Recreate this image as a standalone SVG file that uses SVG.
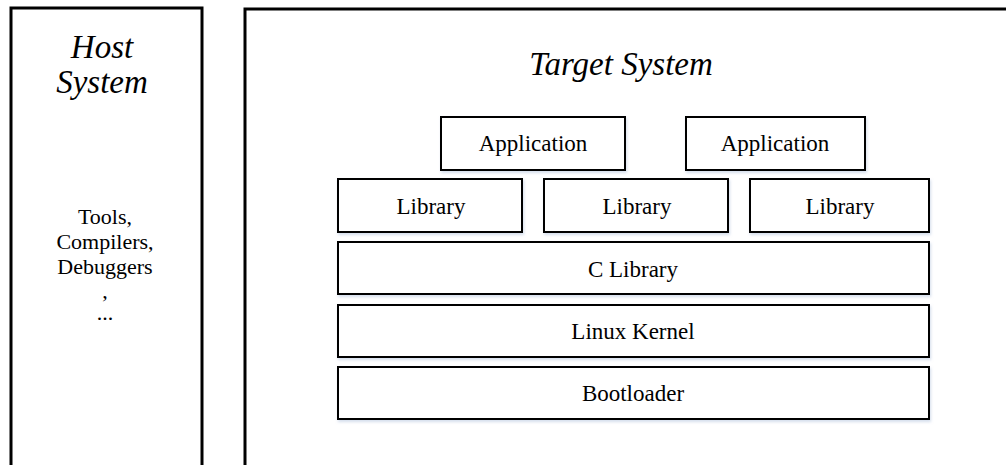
<svg xmlns="http://www.w3.org/2000/svg" width="1006" height="465" viewBox="0 0 1006 465">
<defs>
<filter id="sh" x="-5%" y="-10%" width="110%" height="130%">
<feDropShadow dx="1" dy="2" stdDeviation="1.5" flood-color="#b8c8e0" flood-opacity="0.6"/>
</filter>
</defs>
<style>
.outer{fill:#fff;stroke:#000;stroke-width:3}
.box{fill:#fff;stroke:#000;stroke-width:2;filter:url(#sh)}
</style>
<rect width="1006" height="465" fill="#fff"/>
<g id="host">
<rect class="outer" x="11" y="8" width="191" height="480"/>
<g font-family="Liberation Serif" font-style="italic" font-size="33" text-anchor="middle" fill="#000">
<text x="102" y="58">Host</text>
<text x="102" y="93">System</text>
</g>
<g font-family="Liberation Serif" font-size="22" text-anchor="middle" fill="#000">
<text x="105" y="224">Tools,</text>
<text x="105" y="249">Compilers,</text>
<text x="105" y="274">Debuggers</text>
<text x="105" y="298">,</text>
<text x="105" y="320">...</text>
</g>
</g>
<g id="target">
<rect class="outer" x="245" y="9" width="800" height="480"/>
<text font-family="Liberation Serif" font-style="italic" font-size="33" text-anchor="middle" x="621" y="75">Target System</text>
</g>
<g font-family="Liberation Serif" font-size="23" text-anchor="middle" fill="#000">
<g id="app1"><rect class="box" x="441" y="117" width="184" height="53"/><text x="533" y="151">Application</text></g>
<g id="app2"><rect class="box" x="686" y="117" width="179" height="53"/><text x="775" y="151">Application</text></g>
<g id="lib1"><rect class="box" x="338" y="179" width="184" height="53"/><text x="431" y="214">Library</text></g>
<g id="lib2"><rect class="box" x="544" y="179" width="184" height="53"/><text x="637" y="214">Library</text></g>
<g id="lib3"><rect class="box" x="750" y="179" width="179" height="53"/><text x="840" y="214">Library</text></g>
<g id="clib"><rect class="box" x="338" y="242" width="591" height="52"/><text x="633" y="277">C Library</text></g>
<g id="kernel"><rect class="box" x="338" y="305" width="591" height="52"/><text x="633" y="339">Linux Kernel</text></g>
<g id="boot"><rect class="box" x="338" y="367" width="591" height="52"/><text x="633" y="401">Bootloader</text></g>
</g>
<g id="connectors"></g>
</svg>
